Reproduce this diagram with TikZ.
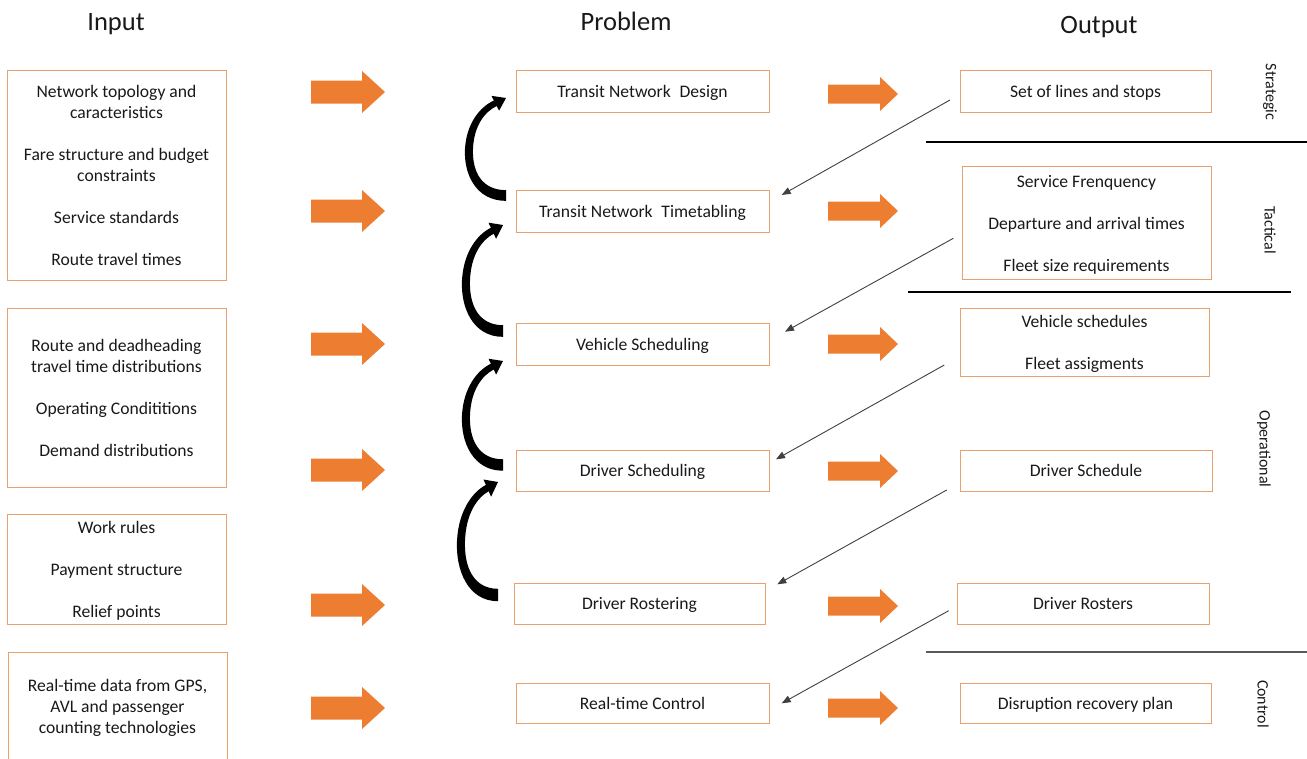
\documentclass[tikz,border=0pt]{standalone}
\usepackage{fontspec}
\setmainfont{Carlito}
\usetikzlibrary{arrows.meta,calc}
\definecolor{orng}{HTML}{ED7D31}
\definecolor{boxc}{RGB}{232,160,110}
\definecolor{txt}{RGB}{25,25,25}
\newcommand\bentarrow[2]{%
  \begin{scope}[shift={(#1)}, yscale=#2]
    \fill[curvearrow] (0,5.5) .. controls (-30,5.5) and (-42.5,-22) .. (-41,-48)
      .. controls (-39.5,-74) and (-26,-91) .. (-12.1,-97.4)
      -- (-14.5,-102.2) -- (0,-100) -- (-6.9,-87) -- (-9.3,-91.8)
      .. controls (-21,-86) and (-32,-72) .. (-33,-48)
      .. controls (-34,-24) and (-24,-5.5) .. (0,-5.5) -- cycle;
  \end{scope}}
\begin{document}
\begin{tikzpicture}[x=1pt,y=-1pt,
  box/.style={draw=boxc, line width=1pt, inner sep=0pt, outer sep=0pt, align=center,
    text=txt, font=\fontsize{17.6}{21}\selectfont, text depth=0pt},
  titletext/.style={font=\fontsize{26.5}{30}\selectfont, text=txt, anchor=base},
  sidetext/.style={font=\fontsize{16}{19}\selectfont, text=txt, rotate=-90},
  curvearrow/.style={fill=black},
  thinarrow/.style={draw=black!75, line width=0.9pt, -{Triangle[length=9pt,width=7pt]}},
  sepline/.style={draw=black, line width=1.1pt},
  inarrow/.pic={\fill[orng] (-37,-11.5) -- (14,-11.5) -- (14,-21) -- (37,0) -- (14,21) -- (14,11.5) -- (-37,11.5) -- cycle;},
  outarrow/.pic={\fill[orng] (-35,-9.5) -- (17,-9.5) -- (17,-17) -- (35,0) -- (17,17) -- (17,9.5) -- (-35,9.5) -- cycle;}
]
\useasboundingbox (0,0) rectangle (1307,758);
\clip (0,0) rectangle (1307,758);

% titles
\node[titletext] (tin) at (116,30.5) {Input};
\node[titletext] (tpr) at (626,30.5) {Problem};
\node[titletext] (tout) at (1099,33) {Output};

% input boxes
\node[box, minimum width=219pt, minimum height=210pt] (i1) at (116.5,175)
  {Network topology and\\caracteristics\\[21pt]Fare structure and budget\\constraints\\[21pt]Service standards\\[21pt]Route travel times};
\node[box, minimum width=219pt, minimum height=179pt] (i2) at (116.5,397.5)
  {Route and deadheading\\travel time distributions\\[21pt]Operating Condititions\\[21pt]Demand distributions};
\node[box, minimum width=219pt, minimum height=110pt] (i3) at (116.5,569)
  {Work rules\\[21pt]Payment structure\\[21pt]Relief points};
\node[box, minimum width=219pt, minimum height=108pt] (i4) at (117.5,706)
  {Real-time data from GPS,\\AVL and passenger\\counting technologies};

% problem boxes
\node[box, minimum width=253pt, minimum height=42pt] (p1) at (642.5,91) {Transit Network\enspace Design};
\node[box, minimum width=253pt, minimum height=42pt] (p2) at (642.5,211) {Transit Network\enspace Timetabling};
\node[box, minimum width=253pt, minimum height=42pt] (p3) at (642.5,344) {Vehicle Scheduling};
\node[box, minimum width=253pt, minimum height=41pt] (p4) at (642.5,470.5) {Driver Scheduling};
\node[box, minimum width=251pt, minimum height=41pt] (p5) at (639.5,603.5) {Driver Rostering};
\node[box, minimum width=253pt, minimum height=40pt] (p6) at (642.5,703) {Real-time Control};

% output boxes
\node[box, minimum width=251pt, minimum height=42pt] (o1) at (1085.5,91.5) {Set of lines and stops};
\node[box, minimum width=249pt, minimum height=113pt] (o2) at (1086.5,223.3)
  {Service Frenquency\\[21pt]Departure and arrival times\\[21pt]Fleet size requirements};
\node[box, minimum width=249pt, minimum height=68pt] (o3) at (1084.5,342)
  {Vehicle schedules\\[21pt]Fleet assigments};
\node[box, minimum width=252pt, minimum height=41pt] (o4) at (1086,470.5) {Driver Schedule};
\node[box, minimum width=252pt, minimum height=41pt] (o5) at (1083,603.5) {Driver Rosters};
\node[box, minimum width=251pt, minimum height=40pt] (o6) at (1085.5,703) {Disruption recovery plan};

% orange block arrows
\foreach \yy in {92,211,344,470,605,708} { \pic at (348,\yy) {inarrow}; }
\foreach \yy in {94,211,344,471,606,708} { \pic at (863,\yy) {outarrow}; }

% separators
\draw[sepline] (926,142) -- (1307,142);
\draw[sepline] (908,292) -- (1291,292);
\draw[sepline, draw=black!65, line width=1.4pt] (926,652) -- (1307,652);

% side labels
\node[sidetext] (lstr) at (1270,92) {Strategic};
\node[sidetext] (ltac) at (1270,230) {Tactical};
\node[sidetext] (lope) at (1264,449) {Operational};
\node[sidetext] (lcon) at (1263,704) {Control};

% bent feedback arrows
\coordinate (b1) at ($(p2.north west)+(-10,5.5)$);
\coordinate (b2) at ($(p3.north west)+(-13,8)$);
\coordinate (b3) at ($(p4.north west)+(-13,15)$);
\coordinate (b4) at ($(p5.north west)+(-16,12)$);
\bentarrow{b1}{0.975}
\bentarrow{b2}{1.06}
\bentarrow{b3}{1.04}
\bentarrow{b4}{1.13}

% thin diagonal arrows
\coordinate (d1s) at ($(o1.west)+(-10,8.5)$);
\coordinate (d1e) at ($(p2.east)+(12.7,-16)$);
\coordinate (d2s) at ($(o2.west)+(-8.7,15)$);
\coordinate (d2e) at ($(p3.east)+(16,-12.3)$);
\coordinate (d3s) at ($(o3.west)+(-15.7,23)$);
\coordinate (d3e) at ($(p4.east)+(7,-11.2)$);
\coordinate (d4s) at ($(o4.west)+(-13.3,19.5)$);
\coordinate (d4e) at ($(p5.east)+(12.3,-19.2)$);
\coordinate (d5s) at ($(o5.west)+(-8.3,7.2)$);
\coordinate (d5e) at ($(p6.east)+(12.7,0.3)$);
\draw[thinarrow] (d1s) -- (d1e);
\draw[thinarrow] (d2s) -- (d2e);
\draw[thinarrow] (d3s) -- (d3e);
\draw[thinarrow] (d4s) -- (d4e);
\draw[thinarrow] (d5s) -- (d5e);
\end{tikzpicture}
\end{document}
